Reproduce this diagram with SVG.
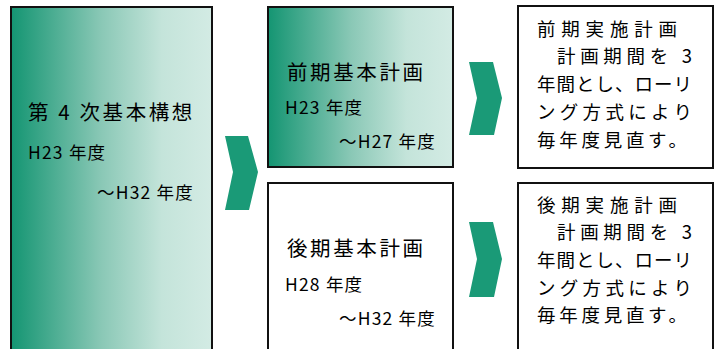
<svg xmlns="http://www.w3.org/2000/svg" width="721" height="349" viewBox="0 0 721 349">
<defs>
<linearGradient id="g" x1="0" y1="0" x2="1" y2="0">
<stop offset="0" stop-color="#149572"/>
<stop offset="0.45" stop-color="#8ac8b6"/>
<stop offset="0.75" stop-color="#c4e4da"/>
<stop offset="1" stop-color="#d3ebe4"/>
</linearGradient>
</defs>
<style>
.box{stroke:#111;stroke-width:2}
.t{font-family:"Noto Sans CJK JP","Noto Sans",sans-serif;fill:#000}
.h{font-size:20.5px;letter-spacing:2.6px}
.s{font-size:17.5px;letter-spacing:1.2px}
.r{font-size:18.5px}
.arr{fill:#1a9a77}
</style>
<g id="n-kihonkoso">
<rect class="box" x="11" y="7" width="201" height="350" fill="url(#g)"/>
<text class="t h" x="28" y="120">第 4 次基本構想</text>
<text class="t s" x="28" y="159">H23 年度</text>
<text class="t s" x="194" y="199" text-anchor="end">～H32 年度</text>
</g>
<g id="n-zenki-kihon">
<rect class="box" x="268" y="7" width="185" height="160" fill="url(#g)"/>
<text class="t h" x="287" y="80">前期基本計画</text>
<text class="t s" x="285" y="114">H23 年度</text>
<text class="t s" x="436" y="148" text-anchor="end">～H27 年度</text>
</g>
<g id="n-koki-kihon">
<rect class="box" x="268" y="183" width="185" height="175" fill="#fff"/>
<text class="t h" x="287" y="256">後期基本計画</text>
<text class="t s" x="285" y="291">H28 年度</text>
<text class="t s" x="436" y="325" text-anchor="end">～H32 年度</text>
</g>
<g id="n-zenki-jisshi">
<rect class="box" x="518" y="6" width="195" height="162" fill="#fff"/>
<text class="t r" x="537" y="36" textLength="140" lengthAdjust="spacing">前期実施計画</text>
<text class="t r" x="557" y="63" textLength="135" lengthAdjust="spacing">計画期間を 3</text>
<text class="t r" x="537" y="91" textLength="155" lengthAdjust="spacing">年間とし、ローリ</text>
<text class="t r" x="537" y="119" textLength="155" lengthAdjust="spacing">ング方式により</text>
<text class="t r" x="537" y="147" textLength="150" lengthAdjust="spacing">毎年度見直す。</text>
</g>
<g id="n-koki-jisshi">
<rect class="box" x="518" y="183" width="195" height="175" fill="#fff"/>
<text class="t r" x="537" y="212" textLength="140" lengthAdjust="spacing">後期実施計画</text>
<text class="t r" x="557" y="239" textLength="135" lengthAdjust="spacing">計画期間を 3</text>
<text class="t r" x="537" y="267" textLength="155" lengthAdjust="spacing">年間とし、ローリ</text>
<text class="t r" x="537" y="295" textLength="155" lengthAdjust="spacing">ング方式により</text>
<text class="t r" x="537" y="322" textLength="150" lengthAdjust="spacing">毎年度見直す。</text>
</g>
<g id="connectors">
<polygon class="arr" points="225,136 248,136 258,172 249,210 225,210 233,172"/>
<polygon class="arr" points="469,62 493,62 502,98 494,135 469,135 477,98"/>
<polygon class="arr" points="469,222 493,222 502,259 494,297 469,297 477,259"/>
</g>
</svg>
